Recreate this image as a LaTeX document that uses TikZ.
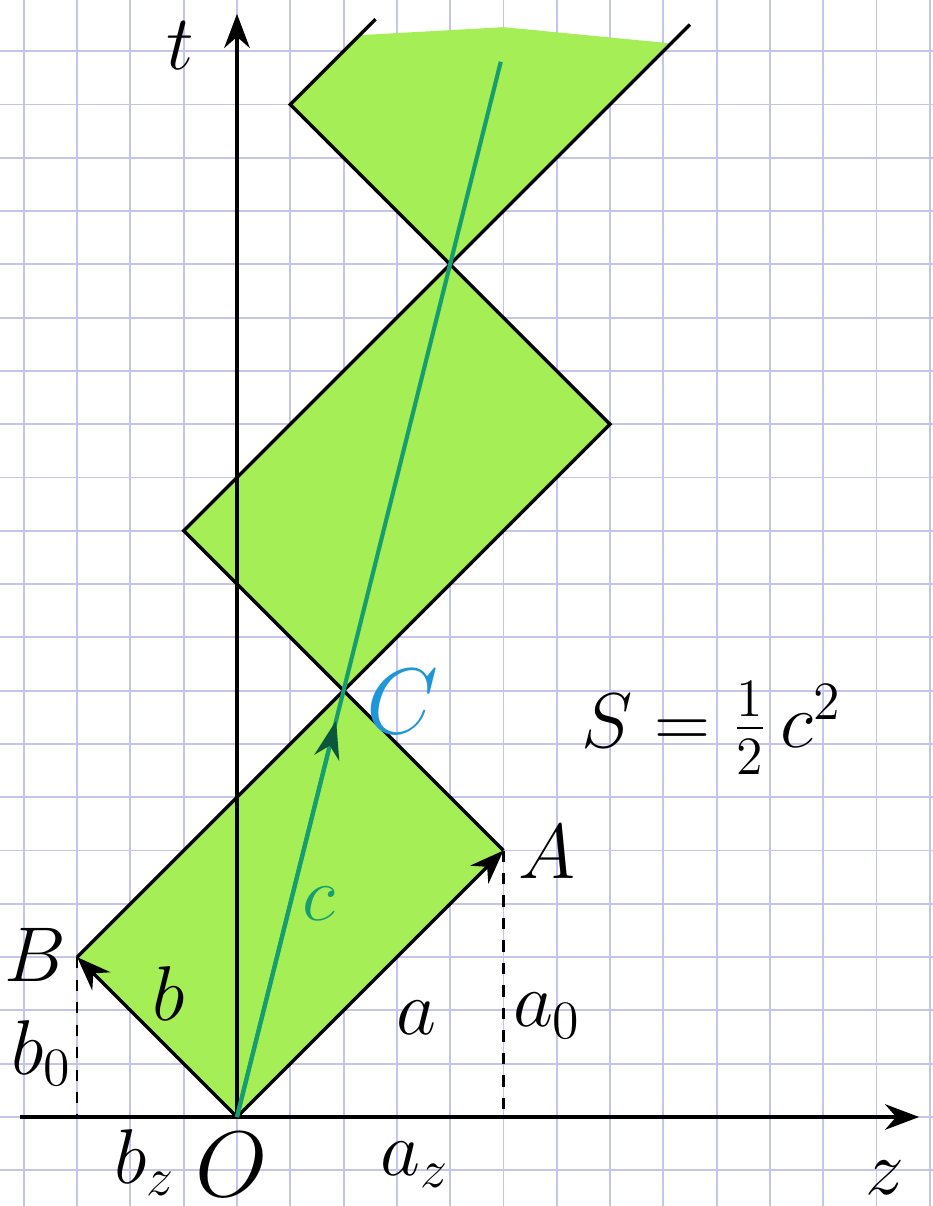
\documentclass[tikz,border=0pt]{standalone}
\usepackage{xcolor}
\usepackage{tikz}
\usetikzlibrary{arrows.meta, calc}

\definecolor{kotak}{RGB}{196,196,236}
\definecolor{hijau}{RGB}{165,238,85}
\definecolor{garisc}{RGB}{22,158,110}
\definecolor{biru}{RGB}{30,150,215}

\begin{document}
\begin{tikzpicture}[
    x=0.5cm, y=0.5cm,
    font=\fontsize{22}{26}\selectfont,
    kertas/.style={kotak, line width=0.5pt},
    tinta/.style={black, line width=0.9pt},
    vek/.style={tinta, -{Stealth[length=3.2mm, width=2.4mm]}},
    putus/.style={black, line width=0.7pt, dashed, dash pattern=on 3pt off 3pt},
    jejak/.style={garisc, line width=1.1pt},
    huruf/.style={inner sep=0pt}
  ]
    \useasboundingbox (-4.447,-1.67) rectangle (13.06,20.96);
    \fill[white] (-4.447,-1.67) rectangle (13.06,20.96);
    % kertas berpetak
    \foreach \i in {-4,...,13}
      \draw[kertas] (\i,-1.67) -- (\i,20.96);
    \foreach \j in {-1,...,20}
      \draw[kertas] (-4.447,\j) -- (13.06,\j);

    \coordinate (O)  at (0,0);
    \coordinate (A)  at (5,5);
    \coordinate (B)  at (-3,3);
    \coordinate (C)  at (2,8);
    \coordinate (L2) at (-1,11);
    \coordinate (R2) at (7,13);
    \coordinate (T2) at (4,16);
    \coordinate (L3) at (1,19);
    \coordinate (L3e) at (2.6,20.6);
    \coordinate (R3e) at (8.5,20.5);
    \coordinate (cend) at (4.95,19.8);
    \coordinate (zs) at (-4.07,0);
    \coordinate (ze) at (12.8,0);
    \coordinate (tt) at (0,20.7);

    % daerah hijau
    \fill[hijau] (O) -- (A) -- (C) -- (B) -- cycle;
    \fill[hijau] (C) -- (R2) -- (T2) -- (L2) -- cycle;
    \fill[hijau] (L3) -- (2.3,20.3) -- (5,20.45) -- (8.1,20.15) -- (T2) -- cycle;

    % sumbu
    \draw[tinta, -{Stealth[length=3.2mm, width=2.4mm]}] (zs) -- (ze);
    \draw[tinta, -{Stealth[length=3.2mm, width=2.4mm]}] (O) -- (tt);

    % sisi kerucut
    \draw[tinta] (A) -- (L2) -- (R3e);
    \draw[tinta] (B) -- (R2) -- (L3) -- (L3e);
    \draw[vek] (O) -- (A);
    \draw[vek] (O) -- (B);
    \draw[putus] (A) -- (A |- O);
    \draw[putus] (B) -- (B |- O);

    % garis c
    \draw[jejak] (O) -- (cend);
    \draw[jejak, -{Stealth[length=3.6mm, width=2.4mm, color=garisc!55!black]}] (O) -- ($(O)!0.93!(C)$);

    \node[huruf] (lt)  at (-1.07,20.1) {$t$};
    \node[huruf] (lz)  at (12.16,-1.14) {$z$};
    \node[huruf, font=\fontsize{23}{27}\selectfont] (lO) at (-0.1,-0.9) {$O$};
    \node[huruf] (lbz) at (-1.73,-0.85) {$b_z$};
    \node[huruf] (laz) at (3.34,-0.9) {$a_z$};
    \node[huruf] (la0) at (5.82,1.9) {$a_0$};
    \node[huruf] (la)  at (3.36,1.86) {$a$};
    \node[huruf] (lA)  at (5.82,4.97) {$A$};
    \node[huruf] (lB)  at (-3.79,3.04) {$B$};
    \node[huruf] (lb)  at (-1.28,2.31) {$b$};
    \node[huruf] (lb0) at (-3.66,1.2) {$b_0$};
    \node[huruf, text=garisc] (lc) at (1.54,4.0) {$c$};
    \node[huruf, text=biru, font=\fontsize{26}{30}\selectfont] (lC) at (3.11,7.79) {$C$};
    \node[huruf] (luas) at (8.91,7.3) {$S = \frac{1}{2}\,c^2$};
\end{tikzpicture}
\end{document}
